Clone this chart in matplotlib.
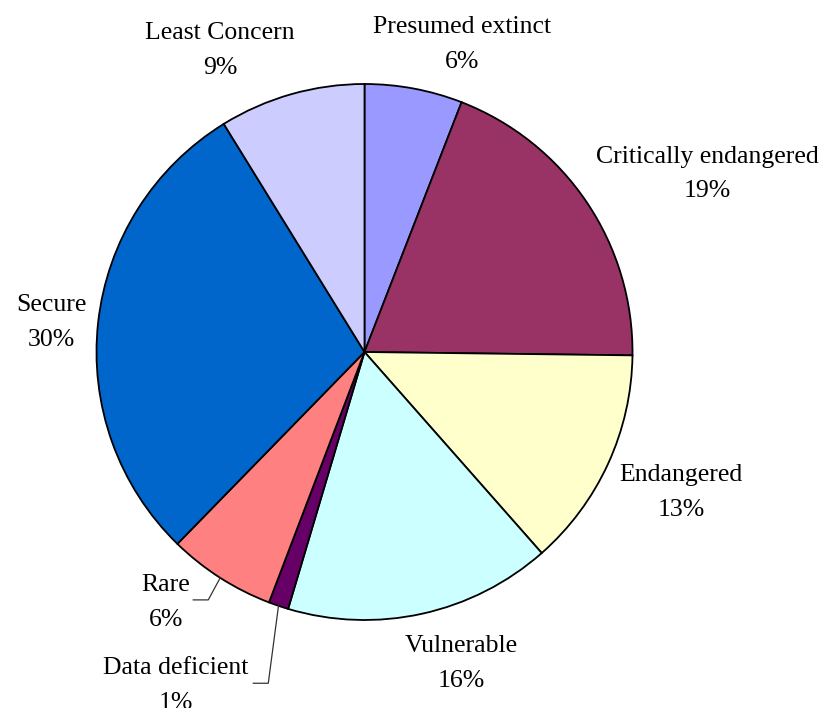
import matplotlib
matplotlib.use("Agg")
import matplotlib.pyplot as plt
import numpy as np

# ---- data ----
categories = ["Presumed extinct", "Critically endangered", "Endangered", "Vulnerable",
              "Data deficient", "Rare", "Secure", "Least Concern"]
shares = [5.9, 19.3, 13.3, 16.1, 1.2, 6.5, 28.9, 8.8]
pct_labels = ["6%", "19%", "13%", "16%", "1%", "6%", "30%", "9%"]

# ---- style ----
colors = ["#9999FF", "#993366", "#FFFFCC", "#CCFFFF", "#660066", "#FF8080", "#0066CC", "#CCCCFF"]
# label centre positions (data units, pie radius = 1)
label_pos = [(0.364, 1.147), (1.278, 0.664), (1.181, -0.523), (0.360, -1.163),
             (-0.703, -1.245), (-0.741, -0.935), (-1.170, 0.109), (-0.539, 1.124)]
# leader lines: category index -> (elbow, end)
leaders = {4: ((-0.359, -1.236), (-0.415, -1.236)),
           5: ((-0.583, -0.925), (-0.639, -0.925))}

W, H, DPI = 822, 708, 100
cx, cy, R = 364.5, 352.0, 268.0

fig = plt.figure(figsize=(W / DPI, H / DPI), dpi=DPI)
ax = fig.add_axes([0, 0, 1, 1])

wedges, _ = ax.pie(shares, colors=colors, startangle=90, counterclock=False,
                   radius=1.0, wedgeprops=dict(edgecolor="black", linewidth=1.3),
                   frame=True)
ax.set_xlim(-cx / R, (W - cx) / R)
ax.set_ylim(-(H - cy) / R, cy / R)
ax.set_aspect("auto")
ax.axis("off")

for i, (name, pct) in enumerate(zip(categories, pct_labels)):
    x, y = label_pos[i]
    ax.text(x, y, f"{name}\n{pct}", ha="center", va="center", multialignment="center",
            family="Liberation Serif", fontsize=18.5, linespacing=1.75, color="black")

for i, (elbow, end) in leaders.items():
    w = wedges[i]
    mid = np.deg2rad((w.theta1 + w.theta2) / 2)
    sx, sy = np.cos(mid), np.sin(mid)
    ax.plot([sx, elbow[0], end[0]], [sy, elbow[1], end[1]], color="#333333", lw=0.9)

fig.savefig("out.png", dpi=DPI)
